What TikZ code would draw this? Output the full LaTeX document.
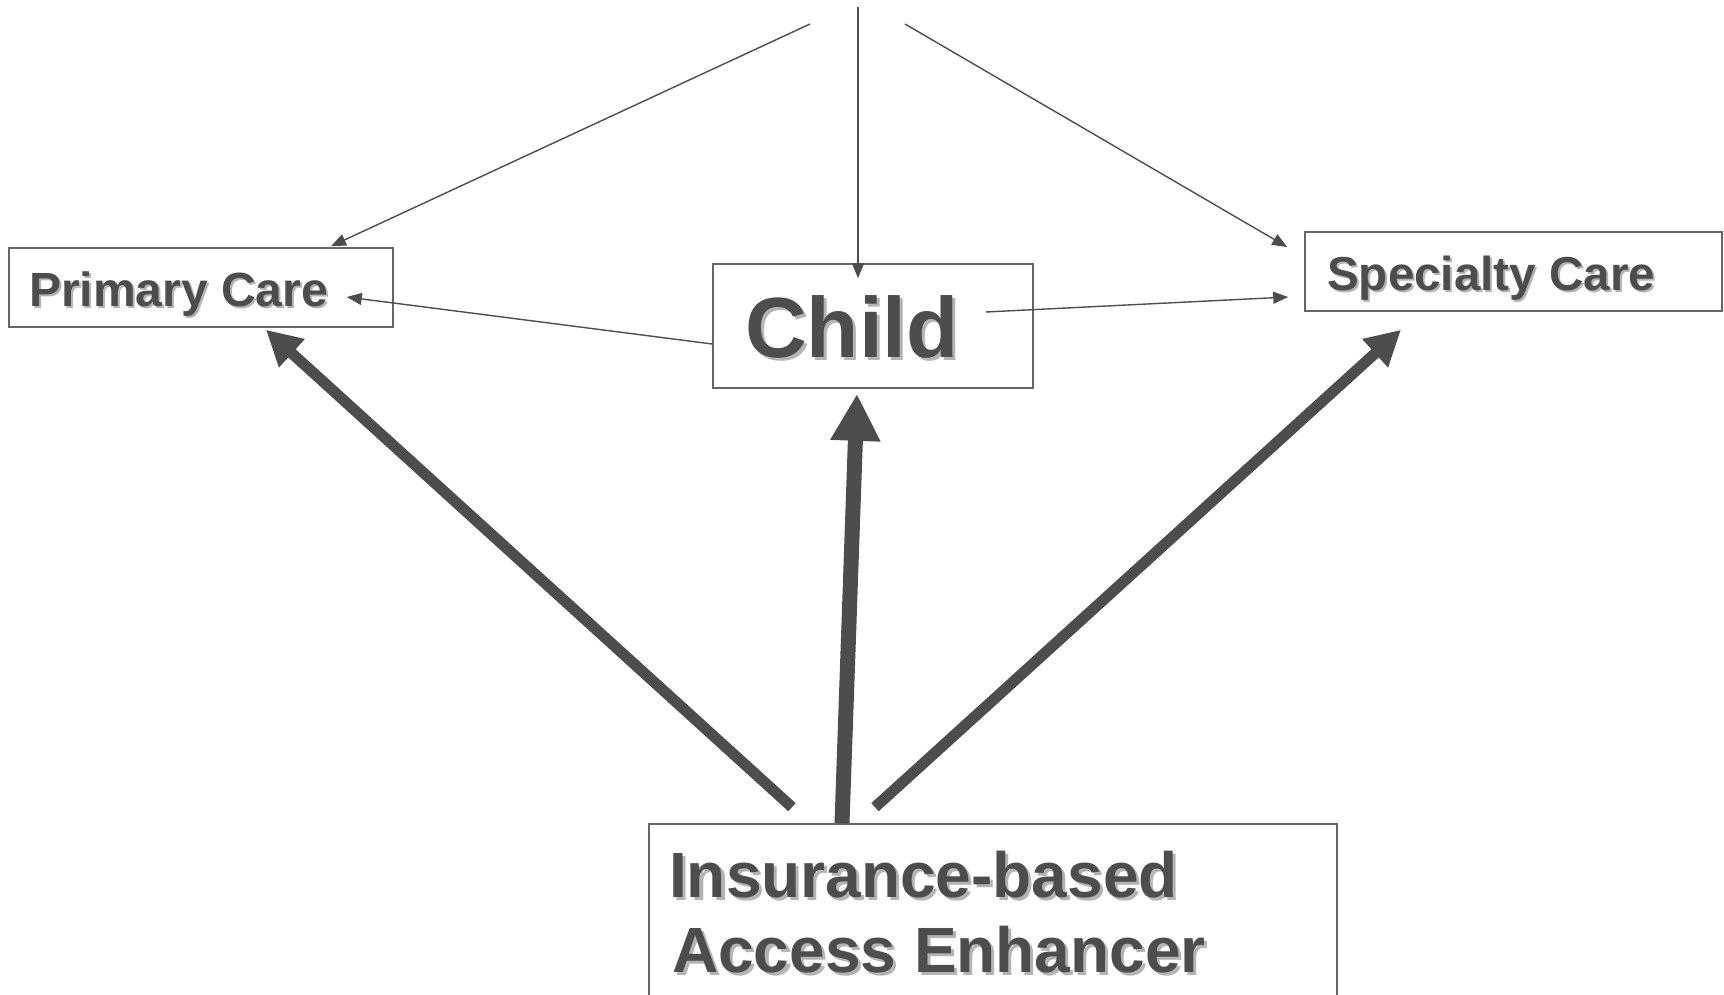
\documentclass[tikz,border=0pt]{standalone}
\usepackage{fontspec}
\setmainfont{Liberation Sans}
\usetikzlibrary{arrows.meta}
\definecolor{ink}{HTML}{4D4D4D}
\definecolor{shade}{HTML}{B4B4B4}
\definecolor{frame}{HTML}{666666}
\newcommand\shlabel[6]{%
  \node[lbl,text=shade,font=#5] (#1s) at ({#2+#4},{#3+#4}) {#6};
  \node[lbl,font=#5] (#1) at (#2,#3) {#6};}
\begin{document}
\begin{tikzpicture}[x=1pt,y=-1pt,
  box/.style={draw=frame, line width=1.6pt, inner sep=0pt, rectangle},
  lbl/.style={inner sep=0pt, anchor=base west, text=ink},
  thinarrow/.style={draw=ink, line width=1.4pt, -{Triangle[length=15pt,width=12pt]}},
  thickarrow/.style={draw=ink, line width=11pt, -{Triangle[length=35pt,width=36pt]}},
  bigarrow/.style={draw=ink, line width=15pt, -{Triangle[length=47pt,width=47pt]}}]
\useasboundingbox (0,0) rectangle (1724,995);
% boxes
\node[box, minimum width=384pt, minimum height=79pt] (prim) at (201,287.5) {};
\node[box, minimum width=320pt, minimum height=124pt] (child) at (873,326) {};
\node[box, minimum width=417pt, minimum height=79pt] (spec) at (1513.5,271.5) {};
\node[box, minimum width=688pt, minimum height=186pt] (ins) at (993,917) {};
% labels
\shlabel{primtxt}{29}{306}{2}{\fontsize{48}{57}\selectfont\bfseries}{Primary Care}
\shlabel{childtxt}{745}{357}{3}{\fontsize{85.5}{100}\selectfont\bfseries}{Child}
\shlabel{spectxt}{1327}{290}{2}{\fontsize{47.6}{57}\selectfont\bfseries}{Specialty Care}
\shlabel{insA}{669}{897}{3}{\fontsize{64}{75}\selectfont\bfseries}{Insurance-based}
\shlabel{insB}{672}{972}{3}{\fontsize{64}{75}\selectfont\bfseries}{Access Enhancer}
% free ends at the top
\coordinate (topL) at (810,24);
\coordinate (topM) at (858,7);
\coordinate (topR) at (905,24);
% thin connectors
\draw[thinarrow] (topL) -- ([xshift=130pt,yshift=1pt]prim.north);
\draw[thinarrow] (topM) -- ([xshift=-15pt,yshift=-15pt]child.north);
\draw[thinarrow] (topR) -- ([xshift=-17pt,yshift=24.5pt]spec.west);
\draw[thinarrow] ([yshift=-18pt]child.west) -- ([xshift=-47pt,yshift=-9.5pt]prim.east);
\draw[thinarrow] ([xshift=-48pt,yshift=14pt]child.east) -- ([xshift=-16pt,yshift=-25.5pt]spec.west);
% thick connectors
\draw[thickarrow] ([xshift=-201pt,yshift=16pt]ins.north) -- ([xshift=65pt,yshift=-2pt]prim.south);
\draw[bigarrow] ([xshift=-151pt]ins.north) -- ([xshift=-16pt,yshift=-5pt]child.south);
\draw[thickarrow] ([xshift=-118pt,yshift=16pt]ins.north) -- ([xshift=-112.5pt,yshift=-18pt]spec.south);
\end{tikzpicture}
\end{document}
